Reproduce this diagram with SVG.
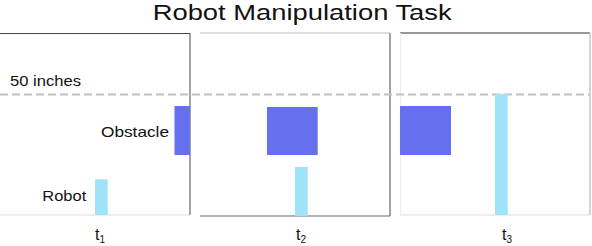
<svg xmlns="http://www.w3.org/2000/svg" width="592" height="246" viewBox="0 0 592 246">
<style>
text{font-family:"Liberation Sans",Arial,sans-serif;fill:#111}
.obs{fill:#6670EE}
.rob{fill:#9EE3F7}
.dash{stroke:#c0c0c0;stroke-width:2;stroke-dasharray:8 4;fill:none}
.edge{fill:none;stroke-width:1.2}
.tl{font-size:16px}
.sub{font-size:10px}
</style>
<rect width="592" height="246" fill="#fff"/>
<text x="152.7" y="19.5" font-size="22.5" textLength="299" lengthAdjust="spacingAndGlyphs">Robot Manipulation Task</text>

<g id="panel1">
  <line class="edge" x1="0" y1="33.5" x2="190" y2="33.5" stroke="#444"/>
  <line class="edge" x1="190" y1="33" x2="190" y2="215" stroke="#666"/>
  <line class="edge" x1="0" y1="215" x2="190" y2="215" stroke="#ddd"/>
</g>
<g id="panel2">
  <line class="edge" x1="200" y1="33" x2="390" y2="33" stroke="#bbb"/>
  <line class="edge" x1="390" y1="33" x2="390" y2="216" stroke="#666"/>
  <line class="edge" x1="200" y1="216" x2="390" y2="216" stroke="#666"/>
</g>
<g id="panel3">
  <line class="edge" x1="400" y1="33" x2="590" y2="33" stroke="#333"/>
  <line class="edge" x1="400.5" y1="33" x2="400.5" y2="215" stroke="#eee"/>
  <line class="edge" x1="400" y1="215" x2="590" y2="215" stroke="#ddd"/>
  <line class="edge" x1="590" y1="33" x2="590" y2="215" stroke="#bbb"/>
</g>

<g id="threshold">
  <line class="dash" x1="0" y1="94.5" x2="590" y2="94.5"/>
  <text x="10" y="86.3" font-size="15.5" textLength="71" lengthAdjust="spacingAndGlyphs">50 inches</text>
</g>

<g id="obstacle1">
  <rect class="obs" x="174.5" y="106" width="15.5" height="49"/>
  <text x="101" y="136.7" font-size="15" textLength="68" lengthAdjust="spacingAndGlyphs">Obstacle</text>
</g>
<g id="robot1">
  <rect class="rob" x="95" y="179.3" width="12.7" height="35.7"/>
  <text x="42.3" y="201" font-size="15" textLength="44" lengthAdjust="spacingAndGlyphs">Robot</text>
</g>
<g id="obstacle2">
  <rect class="obs" x="267" y="107" width="50.7" height="48"/>
</g>
<g id="robot2">
  <rect class="rob" x="295" y="167" width="12.7" height="49"/>
</g>
<g id="obstacle3">
  <rect class="obs" x="400" y="106" width="51" height="49"/>
</g>
<g id="robot3">
  <rect class="rob" x="495" y="94" width="12.7" height="121"/>
</g>

<g id="connectors"></g>

<g id="labels">
  <text class="tl" x="95" y="240">t<tspan class="sub" dy="2.5">1</tspan></text>
  <text class="tl" x="296" y="240">t<tspan class="sub" dy="2.5">2</tspan></text>
  <text class="tl" x="502" y="240">t<tspan class="sub" dy="2.5">3</tspan></text>
</g>
</svg>
